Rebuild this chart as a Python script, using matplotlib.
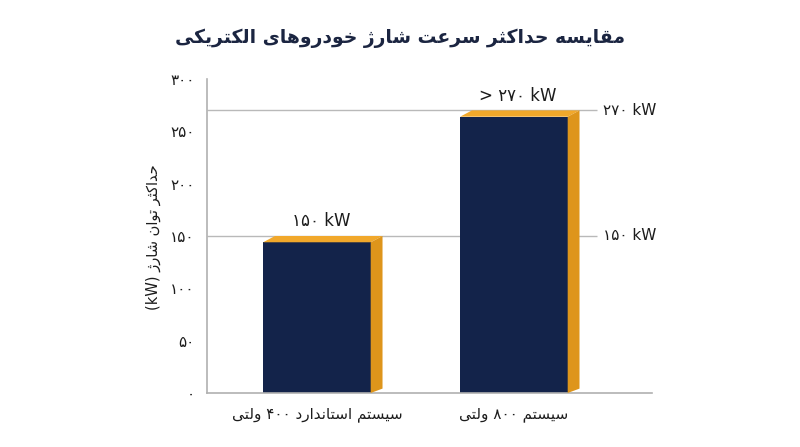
import matplotlib
matplotlib.use("Agg")
import matplotlib.pyplot as plt
from matplotlib.patches import Polygon

plt.rcParams['font.family'] = ['DejaVu Sans']

# ---------------- data ----------------
categories = ["سیستم استاندارد ۴۰۰ ولتی", "سیستم ۸۰۰ ولتی"]
values = [150, 270]
bar_labels = ["۱۵۰ kW", "> ۲۷۰ kW"]
ref_values = [150, 270]
ref_labels = ["۱۵۰ kW", "۲۷۰ kW"]
yticks = [0, 50, 100, 150, 200, 250, 300]
ytick_labels = ["۰", "۵۰", "۱۰۰", "۱۵۰", "۲۰۰", "۲۵۰", "۳۰۰"]
title = "مقایسه حداکثر سرعت شارژ خودروهای الکتریکی"
ylabel = "حداکثر توان شارژ (kW)"

# ------------- minimal Persian shaping (presentation forms) -------------
FORMS = {
    'ا': ('\uFE8D', '\uFE8E', None, None),
    'ت': ('\uFE95', '\uFE96', '\uFE97', '\uFE98'),
    'ث': ('\uFE99', '\uFE9A', '\uFE9B', '\uFE9C'),
    'ح': ('\uFEA1', '\uFEA2', '\uFEA3', '\uFEA4'),
    'خ': ('\uFEA5', '\uFEA6', '\uFEA7', '\uFEA8'),
    'د': ('\uFEA9', '\uFEAA', None, None),
    'ر': ('\uFEAD', '\uFEAE', None, None),
    'ژ': ('\uFB8A', '\uFB8B', None, None),
    'س': ('\uFEB1', '\uFEB2', '\uFEB3', '\uFEB4'),
    'ش': ('\uFEB5', '\uFEB6', '\uFEB7', '\uFEB8'),
    'ع': ('\uFEC9', '\uFECA', '\uFECB', '\uFECC'),
    'ق': ('\uFED5', '\uFED6', '\uFED7', '\uFED8'),
    'ک': ('\uFB8E', '\uFB8F', '\uFB90', '\uFB91'),
    'ل': ('\uFEDD', '\uFEDE', '\uFEDF', '\uFEE0'),
    'م': ('\uFEE1', '\uFEE2', '\uFEE3', '\uFEE4'),
    'ن': ('\uFEE5', '\uFEE6', '\uFEE7', '\uFEE8'),
    'ه': ('\uFEE9', '\uFEEA', '\uFEEB', '\uFEEC'),
    'و': ('\uFEED', '\uFEEE', None, None),
    'ی': ('\uFBFC', '\uFBFD', '\uFBFE', '\uFBFF'),
}


def shape_word(w):
    if not any(c in FORMS for c in w):
        return w
    out = []
    n = len(w)
    for i, c in enumerate(w):
        if c not in FORMS:
            out.append(c)
            continue
        iso, fin, ini, med = FORMS[c]
        prev_j = i > 0 and w[i - 1] in FORMS and FORMS[w[i - 1]][2] is not None
        next_j = i < n - 1 and w[i + 1] in FORMS and ini is not None
        if prev_j and next_j:
            out.append(med)
        elif prev_j:
            out.append(fin)
        elif next_j:
            out.append(ini)
        else:
            out.append(iso)
    return ''.join(reversed(out))


def fa(text):
    words = text.split(' ')
    return ' '.join(shape_word(w) for w in reversed(words))


# ---------------- figure ----------------
fig = plt.figure(figsize=(8, 4.47), dpi=100)
L, R, B, T = 207 / 800, 652 / 800, 1 - 393 / 447, 1 - 79 / 447
ax = fig.add_axes([L, B, R - L, T - B])

navy = '#13234A'
top_c = '#F1A82B'
side_c = '#DE951B'
txt = '#1c1c1c'

x = list(range(len(values)))
W = 0.546
DX = 0.06
DY = 6.0

ax.set_xlim(-0.558, 1.701)
ax.set_ylim(0, 300)

ax.hlines(ref_values, -0.558, 1.421, color='#b9b9b9', lw=1.0, zorder=0)
for v, lab in zip(ref_values, ref_labels):
    ax.text(1.452, v, lab, ha='left', va='center', fontsize=11, color=txt)

fronts = [v - DY for v in values]
ax.bar(x, fronts, width=W, color=navy, zorder=2)
for xi, v in zip(x, values):
    xl, xr = xi - W / 2, xi + W / 2
    ax.add_patch(Polygon([(xl, v - DY), (xl + DX, v), (xr + DX, v), (xr, v - DY)],
                         closed=True, facecolor=top_c, edgecolor='none', zorder=3))
    ax.add_patch(Polygon([(xr, 0), (xr + DX, DY * 0.7), (xr + DX, v), (xr, v - DY)],
                         closed=True, facecolor=side_c, edgecolor='none', zorder=3))

for xi, v, lab in zip(x, values, bar_labels):
    ax.text(xi + 0.02, v + 14, lab, ha='center', va='center', fontsize=12, color=txt)

for s in ['top', 'right']:
    ax.spines[s].set_visible(False)
ax.spines['left'].set_color('#b0b0b0')
ax.spines['bottom'].set_color('#b0b0b0')
ax.spines['left'].set_linewidth(1.2)
ax.spines['bottom'].set_linewidth(1.2)

ax.set_yticks(yticks)
ax.set_yticklabels(ytick_labels, fontsize=11, color=txt)
ax.tick_params(axis='y', length=0, pad=9)
ax.set_xticks(x)
ax.set_xticklabels([fa(c) for c in categories], fontsize=11, color=txt)
ax.tick_params(axis='x', length=0, pad=10)

fig.text(153 / 800, 1 - 237 / 447, fa(ylabel), rotation=90, ha='center', va='center',
         fontsize=10.5, color=txt)
fig.text(0.5, 1 - 38 / 447, fa(title), ha='center', va='center', fontsize=13.5,
         fontweight='bold', color='#1B2541')

fig.savefig('out.png', dpi=100, facecolor='white')
